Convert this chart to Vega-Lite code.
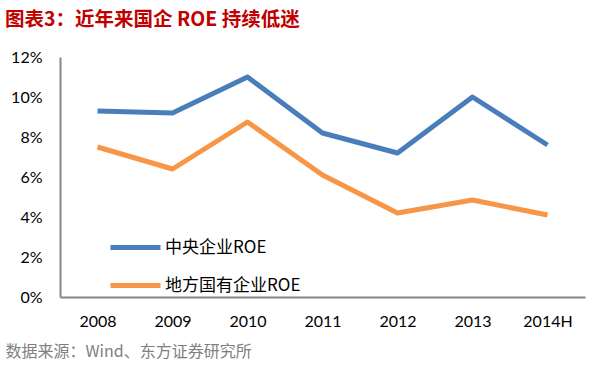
{
  "$schema": "https://vega.github.io/schema/vega-lite/v6.json",
  "autosize": {"type": "none"},
  "width": 525,
  "height": 240,
  "padding": {"left": 60, "top": 57, "right": 4, "bottom": 73},
  "background": "white",
  "title": {
    "text": "图表3：近年来国企 ROE 持续低迷",
    "anchor": "start",
    "frame": "group",
    "dx": -55,
    "offset": 19,
    "font": "Noto Sans CJK SC",
    "fontSize": 19.5,
    "fontWeight": "bold",
    "color": "#C00000"
  },
  "config": {
    "view": {"stroke": null},
    "font": "Lato, Noto Sans CJK SC"
  },
  "data": {
    "values": [
      {"year": "2008", "series": "中央企业ROE", "roe": 0.093},
      {"year": "2009", "series": "中央企业ROE", "roe": 0.092},
      {"year": "2010", "series": "中央企业ROE", "roe": 0.110},
      {"year": "2011", "series": "中央企业ROE", "roe": 0.082},
      {"year": "2012", "series": "中央企业ROE", "roe": 0.072},
      {"year": "2013", "series": "中央企业ROE", "roe": 0.100},
      {"year": "2014H", "series": "中央企业ROE", "roe": 0.076},
      {"year": "2008", "series": "地方国有企业ROE", "roe": 0.075},
      {"year": "2009", "series": "地方国有企业ROE", "roe": 0.064},
      {"year": "2010", "series": "地方国有企业ROE", "roe": 0.0875},
      {"year": "2011", "series": "地方国有企业ROE", "roe": 0.061},
      {"year": "2012", "series": "地方国有企业ROE", "roe": 0.042},
      {"year": "2013", "series": "地方国有企业ROE", "roe": 0.0485},
      {"year": "2014H", "series": "地方国有企业ROE", "roe": 0.041}
    ]
  },
  "mark": {"type": "line", "strokeWidth": 5, "strokeCap": "butt", "strokeJoin": "round"},
  "encoding": {
    "x": {
      "field": "year",
      "type": "nominal",
      "sort": null,
      "scale": {"paddingInner": 0, "paddingOuter": 0.5},
      "axis": {
        "labelAngle": 0,
        "labelFontSize": 16,
        "labelColor": "#000000",
        "labelPadding": 16,
        "ticks": false,
        "domainColor": "#868686",
        "domainWidth": 2,
        "title": "数据来源：Wind、东方证券研究所",
        "titleFont": "Noto Sans CJK SC",
        "titleFontSize": 16,
        "titleFontWeight": "normal",
        "titleColor": "#808080",
        "titleAnchor": "start",
        "titleAlign": "left",
        "titleBaseline": "top",
        "titleX": -55,
        "titleY": 46
      }
    },
    "y": {
      "field": "roe",
      "type": "quantitative",
      "scale": {"domain": [0, 0.12]},
      "axis": {
        "values": [0, 0.02, 0.04, 0.06, 0.08, 0.1, 0.12],
        "format": ".0%",
        "labelFontSize": 16,
        "labelColor": "#000000",
        "labelPadding": 18,
        "ticks": false,
        "grid": false,
        "domainColor": "#868686",
        "domainWidth": 2,
        "title": null
      }
    },
    "color": {
      "field": "series",
      "type": "nominal",
      "scale": {"domain": ["中央企业ROE", "地方国有企业ROE"], "range": ["#4A7EBB", "#F79646"]},
      "legend": {
        "title": null,
        "orient": "none",
        "legendX": 48,
        "legendY": 163,
        "symbolType": "stroke",
        "symbolSize": 2500,
        "symbolStrokeWidth": 5,
        "labelFontSize": 17,
        "labelFont": "Noto Sans CJK SC",
        "labelColor": "#000000",
        "labelOffset": 2,
        "rowPadding": -14
      }
    }
  }
}
